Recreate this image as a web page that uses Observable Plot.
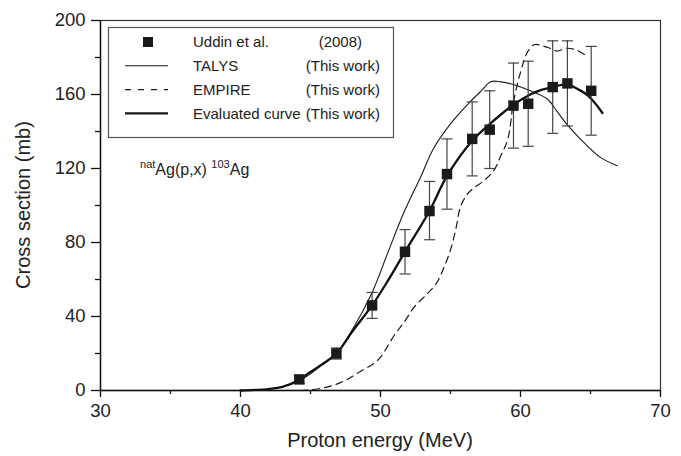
<!DOCTYPE html>
<html><head><meta charset="utf-8">
<script src="https://cdn.jsdelivr.net/npm/d3@7"></script>
<script src="https://cdn.jsdelivr.net/npm/@observablehq/plot@0.6"></script>
<style>body{margin:0;background:#fff}</style>
</head><body><div id="chart"></div>
<script>
// Experimental data: Uddin et al. (2008)
const expEnergy = [44.2, 46.85, 49.4, 51.75, 53.5, 54.75, 56.55, 57.8, 59.5, 60.55, 62.3, 63.35, 65.05];
const expXS     = [6, 20, 46, 75, 97, 117, 136, 141, 154, 155, 164, 166, 162];
const expLow    = [4, 17, 39, 63, 81.5, 98, 116, 120, 131, 132, 139, 143, 138];
const expHigh   = [8, 23, 53, 87, 113, 136, 156, 162, 177, 178, 189, 189, 186];

// TALYS (This work)
const talysEnergy = [40, 41, 42, 43, 44, 45, 46, 46.85, 48, 49.4, 50.5, 51.6, 52.9, 53.8, 55.2, 56.4, 57.2, 57.9, 58.6, 59.3, 60.7, 61.9, 62.6, 63.3, 64.8, 65.7, 66.9];
const talysXS     = [0, 0.3, 0.8, 2, 4.5, 9, 15, 20, 33, 53, 74, 95, 116, 131, 146, 156, 162, 167, 166.8, 165.8, 162, 157.7, 151, 144, 132, 126, 121.5];

// EMPIRE (This work)
const empireEnergy = [44.3, 45.5, 46.5, 47.5, 48.5, 49.5, 50, 51, 51.7, 52.4, 53.3, 54, 54.5, 55, 55.4, 55.7, 56.1, 56.5, 57.4, 58.1, 58.6, 59.1, 59.5, 60, 60.5, 61, 61.5, 62.1, 62.6, 63.3, 64, 64.7];
const empireXS     = [0, 0.8, 2.5, 5.5, 10, 14.5, 18, 30, 37, 45, 52, 58, 66, 76, 88, 99, 105, 108.5, 113.5, 119, 127, 136, 156, 172, 183, 187, 186.5, 185, 183.5, 185, 184, 181];

// Evaluated curve (This work)
const evalEnergy = [40, 41, 42, 43, 44, 45, 46, 46.85, 48, 49.4, 50.5, 51.75, 53.5, 54.75, 56.55, 57.8, 59.5, 60.7, 61.5, 62.3, 63.3, 64.2, 64.8, 65.3, 65.85];
const evalXS     = [0, 0.3, 0.8, 2, 5, 10, 15, 20, 32, 46, 59, 75, 97, 116, 135, 144, 154.5, 160, 162.5, 164, 165.5, 162.5, 159.5, 155.5, 150];

const xTicks = [30, 40, 50, 60, 70];
const xMinor = [35, 45, 55, 65];
const yTicks = [0, 40, 80, 120, 160, 200];
const yMinor = [20, 60, 100, 140, 180];

const legendLabels = ["Uddin et al.", "TALYS", "EMPIRE", "Evaluated curve"];
const legendNotes = ["(2008)", "(This work)", "(This work)", "(This work)"];

const exp = expEnergy.map((e, i) => ({e, xs: expXS[i], lo: expLow[i], hi: expHigh[i]}));
const talys = talysEnergy.map((e, i) => ({e, xs: talysXS[i]}));
const empire = empireEnergy.map((e, i) => ({e, xs: empireXS[i]}));
const evaluated = evalEnergy.map((e, i) => ({e, xs: evalXS[i]}));

const cap = {draw(ctx, size) { const r = Math.sqrt(size / Math.PI); ctx.moveTo(-r, 0); ctx.lineTo(r, 0); }};
const FONT = '"Liberation Sans", Arial, Helvetica, sans-serif';

const chart = Plot.plot({
  width: 681, height: 456,
  marginLeft: 100, marginRight: 21, marginTop: 20, marginBottom: 66,
  style: {fontFamily: FONT, fontSize: "18.5px", color: "#222", background: "#fff", overflow: "visible"},
  x: {domain: [30, 70]},
  y: {domain: [0, 200]},
  marks: [
    Plot.line(talys, {x: "e", y: "xs", curve: "catmull-rom", stroke: "#1a1a1a", strokeWidth: 1.1}),
    Plot.line(empire, {x: "e", y: "xs", curve: "catmull-rom", stroke: "#1a1a1a", strokeWidth: 1.2, strokeDasharray: "7,5"}),
    Plot.line(evaluated, {x: "e", y: "xs", curve: "catmull-rom", stroke: "#111", strokeWidth: 2.3}),
    Plot.ruleX(exp, {x: "e", y1: "lo", y2: "hi", stroke: "#444", strokeWidth: 1.2}),
    Plot.dot(exp, {x: "e", y: "lo", symbol: cap, r: 5.5, stroke: "#444", strokeWidth: 1.2}),
    Plot.dot(exp, {x: "e", y: "hi", symbol: cap, r: 5.5, stroke: "#444", strokeWidth: 1.2}),
    Plot.dot(exp, {x: "e", y: "xs", symbol: "square", r: 5.9, fill: "#1a1a1a", stroke: null}),
    Plot.frame({stroke: "#333", strokeWidth: 1.2}),
    Plot.ruleY([0], {stroke: "#111", strokeWidth: 1.4}),
    Plot.ruleX([30], {stroke: "#111", strokeWidth: 1.4}),
    Plot.axisX({ticks: xTicks, tickSize: 7, tickPadding: 6, label: null, stroke: "#111", strokeWidth: 1.3}),
    Plot.axisX({ticks: xMinor, tickSize: 4, tickFormat: () => "", label: null, stroke: "#111", strokeWidth: 1.3}),
    Plot.axisY({ticks: yTicks, tickSize: 9, tickPadding: 6, label: null, stroke: "#111", strokeWidth: 1.3}),
    Plot.axisY({ticks: yMinor, tickSize: 5, tickFormat: () => "", label: null, stroke: "#111", strokeWidth: 1.3})
  ]
});
document.getElementById("chart").append(chart);

const sx = chart.scale("x"), sy = chart.scale("y");
const svg = d3.select(chart);
const [x0, x1] = sx.range, [y0, y1] = sy.range;
const g = svg.append("g").attr("font-family", FONT).attr("fill", "#222").attr("text-anchor", "start");

// Axis titles
g.append("text").attr("x", (x0 + x1) / 2).attr("y", 447).attr("text-anchor", "middle")
  .attr("font-size", 20).text("Proton energy (MeV)");
g.append("text").attr("transform", `translate(30,${(y0 + y1) / 2}) rotate(-90)`).attr("text-anchor", "middle")
  .attr("font-size", 20).text("Cross section (mb)");

// Reaction annotation
const ann = g.append("text").attr("x", sx.apply(32.86)).attr("y", sy.apply(116.2)).attr("font-size", 16);
ann.append("tspan").attr("font-size", 11).attr("dy", -7).text("nat");
ann.append("tspan").attr("dy", 7).text("Ag(p,x) ");
ann.append("tspan").attr("font-size", 11).attr("dy", -7).text("103");
ann.append("tspan").attr("dy", 7).text("Ag");

// Legend
const L = {x: 108.5, y: 27.5, w: 285, h: 110};
const lg = g.append("g");
lg.append("rect").attr("x", L.x).attr("y", L.y).attr("width", L.w).attr("height", L.h)
  .attr("fill", "#fff").attr("stroke", "#555").attr("stroke-width", 1.2);
const rowY = i => L.y + 14.5 + i * 23.8;
legendLabels.forEach((lab, i) => {
  const y = rowY(i);
  if (i === 0) {
    lg.append("rect").attr("x", 143).attr("y", y - 5).attr("width", 10).attr("height", 10).attr("fill", "#1a1a1a");
  } else {
    lg.append("line").attr("x1", 125).attr("x2", 168).attr("y1", y).attr("y2", y)
      .attr("stroke", "#1a1a1a")
      .attr("stroke-width", i === 3 ? 2.3 : 1.1)
      .attr("stroke-dasharray", i === 2 ? "6,7" : null);
  }
  lg.append("text").attr("x", 193).attr("y", y).attr("dy", "0.36em").attr("font-size", 15).text(lab);
  lg.append("text").attr("x", i === 0 ? 362 : 380).attr("y", y).attr("dy", "0.36em")
    .attr("text-anchor", "end").attr("font-size", 15).text(legendNotes[i]);
});
</script>
</body></html>
